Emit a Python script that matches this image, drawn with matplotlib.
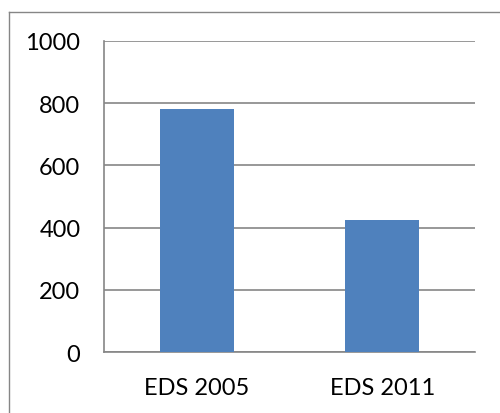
import matplotlib.pyplot as plt
from matplotlib.lines import Line2D

categories = ["EDS 2005", "EDS 2011"]
values = [781, 425]
y_ticks = [0, 200, 400, 600, 800, 1000]

plt.rcParams['font.family'] = ['Lato', 'DejaVu Sans']

fig = plt.figure(figsize=(5.0, 4.14), dpi=100)
ax = fig.add_axes([0.208, 0.1473, 0.742, 0.7513])

x = range(len(categories))
ax.bar(x, values, width=0.4, color="#4F81BD", zorder=3)

ax.set_xlim(-0.5, 1.5)
ax.set_ylim(0, 1000)
ax.set_yticks(y_ticks)
ax.set_xticks(list(x))
ax.set_xticklabels(categories)

# excel-like gray grid, no tick marks
ax.grid(axis="y", color="#868686", linewidth=1.2, zorder=0)
for side in ["top", "right"]:
    ax.spines[side].set_visible(False)
ax.spines["left"].set_color("#868686")
ax.spines["bottom"].set_color("#868686")
ax.spines["left"].set_linewidth(1.2)
ax.spines["bottom"].set_linewidth(1.2)
ax.tick_params(axis="y", length=0, pad=17, labelsize=17)
ax.tick_params(axis="x", length=0, pad=18, labelsize=17)

# outer chart frame: only top and left edges fall inside the image
x0 = 8.5 / 500
y0 = 1 - 12.5 / 414
fig.add_artist(Line2D([x0, 1.0], [y0, y0], transform=fig.transFigure,
                      color="#868686", linewidth=1.0))
fig.add_artist(Line2D([x0, x0], [0.0, y0], transform=fig.transFigure,
                      color="#868686", linewidth=1.0))

fig.savefig("out.png", dpi=100)
